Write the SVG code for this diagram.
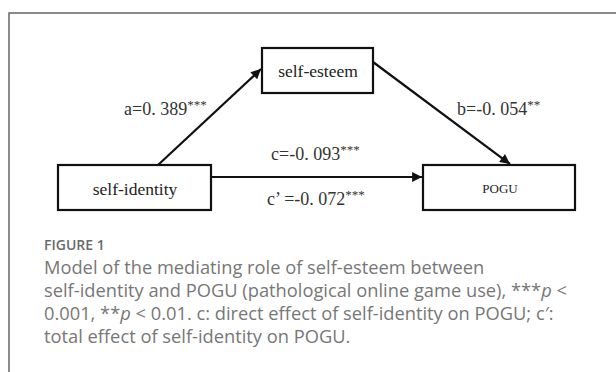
<svg xmlns="http://www.w3.org/2000/svg" width="616" height="372" viewBox="0 0 616 372">
<style>
.box{fill:#fff;stroke:#111;stroke-width:2.2}
.node{font-family:"Liberation Serif","Times New Roman",serif;fill:#222;text-anchor:middle}
.lbl{font-family:"Liberation Serif","Times New Roman",serif;fill:#333;font-size:18px}
.sup{font-size:13px}
.edge{stroke:#111;stroke-width:2.2;fill:none;marker-end:url(#ah)}
.cap{font-family:"Open Sans","Noto Sans",sans-serif;fill:#777;font-size:18.3px}
.fig{font-family:"Open Sans","Noto Sans",sans-serif;fill:#6a6a6a;font-size:14px;font-weight:600}
</style>
<defs>
<marker id="ah" viewBox="0 0 10 10" refX="10" refY="5" markerWidth="5.5" markerHeight="4.5" markerUnits="strokeWidth" orient="auto">
<path d="M0,0 L10,5 L0,10 Z" fill="#111"/>
</marker>
</defs>
<rect width="616" height="372" fill="#fff"/>
<path d="M616,13 H9 V372" fill="none" stroke="#666" stroke-width="1.5"/>
<g id="connectors">
<line class="edge" x1="158" y1="165" x2="261" y2="69"/>
<line class="edge" x1="373" y1="62" x2="510" y2="164"/>
<line class="edge" x1="211" y1="177" x2="422" y2="177"/>
</g>
<g id="self-esteem">
<rect class="box" x="262" y="48" width="111" height="45"/>
<text class="node" x="318" y="77" font-size="17.5">self-esteem</text>
</g>
<g id="self-identity">
<rect class="box" x="58" y="165" width="153" height="45"/>
<text class="node" x="135" y="195" font-size="17.5">self-identity</text>
</g>
<g id="POGU">
<rect class="box" x="423" y="165" width="152" height="45"/>
<text class="node" x="500" y="193" font-size="13">POGU</text>
</g>
<g id="labels">
<text class="lbl" x="124" y="115">a=0. 389<tspan class="sup" dy="-6">***</tspan></text>
<text class="lbl" x="457" y="115">b=-0. 054<tspan class="sup" dy="-6">**</tspan></text>
<text class="lbl" x="271" y="160">c=-0. 093<tspan class="sup" dy="-6">***</tspan></text>
<text class="lbl" x="267" y="205">c’ =-0. 072<tspan class="sup" dy="-6">***</tspan></text>
</g>
<g id="caption">
<text class="fig" x="44" y="250">FIGURE 1</text>
<text class="cap" x="44" y="274">Model of the mediating role of self-esteem between</text>
<text class="cap" x="44" y="297">self-identity and POGU (pathological online game use), ***<tspan font-style="italic">p</tspan> &lt;</text>
<text class="cap" x="44" y="320">0.001, **<tspan font-style="italic">p</tspan> &lt; 0.01. c: direct effect of self-identity on POGU; c′:</text>
<text class="cap" x="44" y="343">total effect of self-identity on POGU.</text>
</g>
</svg>
